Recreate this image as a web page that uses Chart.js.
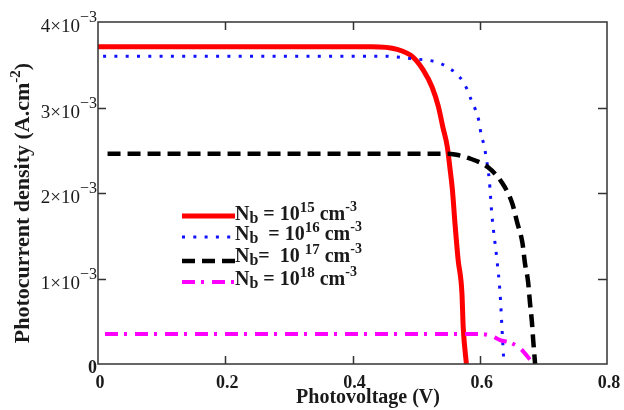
<!DOCTYPE html>
<html>
<head>
<meta charset="utf-8">
<script src="https://cdn.jsdelivr.net/npm/chart.js"></script>
<style>
  body { margin: 0; background: #fff; }
</style>
</head>
<body>
<canvas id="ivChart" width="624" height="410"></canvas>
<script>
// Photovoltage (V) / photocurrent density (x10^-3 A.cm^-2)
const redV = [0, 0.43, 0.47, 0.495, 0.511, 0.525, 0.535, 0.542, 0.549, 0.553, 0.557, 0.561, 0.566, 0.572, 0.574, 0.579];
const redJ = [3.71, 3.71, 3.68, 3.59, 3.44, 3.24, 3.01, 2.77, 2.54, 2.30, 2.04, 1.65, 1.22, 0.83, 0.43, 0];

const blueV = [0.008, 0.45, 0.495, 0.533, 0.550, 0.568, 0.579, 0.586, 0.594, 0.599, 0.602, 0.607, 0.610, 0.615, 0.619, 0.627, 0.632, 0.635, 0.638];
const blueJ = [3.60, 3.60, 3.57, 3.53, 3.47, 3.36, 3.23, 3.10, 2.96, 2.83, 2.69, 2.55, 2.42, 2.15, 1.75, 1.22, 0.82, 0.41, 0];

const blackV = [0.015, 0.55, 0.561, 0.582, 0.613, 0.635, 0.651, 0.659, 0.667, 0.671, 0.676, 0.679, 0.682, 0.684, 0.687];
const blackJ = [2.46, 2.46, 2.45, 2.41, 2.30, 2.12, 1.88, 1.65, 1.42, 1.18, 0.96, 0.71, 0.49, 0.28, 0];

const magV = [0.011, 0.60, 0.618, 0.632, 0.648, 0.664, 0.677, 0.684];
const magJ = [0.35, 0.35, 0.33, 0.28, 0.25, 0.18, 0.07, 0];

const xTicks = [0, 0.2, 0.4, 0.6, 0.8];
const yTicks = [0, 1, 2, 3, 4];
const dopingExp = ['15', '16', '17', '18'];
const legendEq = [' = 10', '  = 10', '=  10 ', ' = 10'];

const FONT = '"Liberation Serif", "Times New Roman", serif';

function toPoints(v, j) {
    return v.map((x, i) => ({ x: x, y: j[i] }));
}

// draws a run of text pieces (for sub/superscripts), returns end x
function drawRich(ctx, x, y, parts, weight) {
    parts.forEach(p => {
        ctx.font = `${weight} ${p.size}px ${FONT}`;
        ctx.fillText(p.t, x, y + (p.dy || 0));
        x += ctx.measureText(p.t).width;
    });
    return x;
}

function richWidth(ctx, parts, weight) {
    let w = 0;
    parts.forEach(p => {
        ctx.font = `${weight} ${p.size}px ${FONT}`;
        w += ctx.measureText(p.t).width;
    });
    return w;
}

const axesPlugin = {
    id: 'axesPlugin',
    afterDatasetsDraw(chart) {
        const { ctx, chartArea: a, scales: { x, y } } = chart;
        ctx.save();

        // frame
        ctx.strokeStyle = '#333';
        ctx.lineWidth = 1.5;
        ctx.strokeRect(a.left, a.top, a.right - a.left, a.bottom - a.top);

        // inward ticks on all four sides
        ctx.beginPath();
        xTicks.slice(1, -1).forEach(v => {
            const px = Math.round(x.getPixelForValue(v)) + 0.5;
            ctx.moveTo(px, a.bottom); ctx.lineTo(px, a.bottom - 8);
            ctx.moveTo(px, a.top); ctx.lineTo(px, a.top + 8);
        });
        yTicks.slice(1, -1).forEach(v => {
            const py = Math.round(y.getPixelForValue(v)) + 0.5;
            ctx.moveTo(a.left, py); ctx.lineTo(a.left + 8, py);
            ctx.moveTo(a.right, py); ctx.lineTo(a.right - 9, py);
        });
        ctx.stroke();

        ctx.fillStyle = '#1a1a1a';

        // x tick labels
        ctx.font = `bold 18px ${FONT}`;
        ctx.textAlign = 'center';
        ctx.textBaseline = 'alphabetic';
        xTicks.forEach(v => {
            ctx.fillText(String(v), x.getPixelForValue(v) + 2, a.bottom + 24);
        });

        // y tick labels  n×10^-3
        ctx.textAlign = 'left';
        yTicks.forEach(v => {
            const py = y.getPixelForValue(v);
            if (v === 0) {
                ctx.font = `bold 18px ${FONT}`;
                ctx.textAlign = 'right';
                ctx.fillText('0', a.left - 1, py + 9);
                ctx.textAlign = 'left';
                return;
            }
            const parts = [
                { t: v + '\u00d710', size: 19 },
                { t: '\u2212' + '3', size: 16, dy: -10 }
            ];
            const w = richWidth(ctx, parts, 'normal');
            drawRich(ctx, a.left - 1 - w, py + 10, parts, 'normal');
        });

        // x title
        const xt = [{ t: 'Photovoltage (V)', size: 20 }];
        const xw = richWidth(ctx, xt, 'bold');
        drawRich(ctx, 368 - xw / 2, 403, xt, 'bold');

        // y title, rotated
        const yt = [
            { t: 'Photocurrent density (A.cm', size: 22 },
            { t: '-2', size: 15, dy: -9 },
            { t: ')', size: 22 }
        ];
        const yw = richWidth(ctx, yt, 'bold');
        ctx.save();
        ctx.translate(29, 203);
        ctx.rotate(-Math.PI / 2);
        drawRich(ctx, -yw / 2, 0, yt, 'bold');
        ctx.restore();

        // legend inside the plot
        const lineY = [216, 237, 261, 282];
        const textY = [220, 240, 262, 285];
        chart.data.datasets.forEach((ds, i) => {
            ctx.save();
            ctx.strokeStyle = ds.borderColor;
            ctx.lineWidth = ds.borderWidth;
            ctx.setLineDash(ds.borderDash || []);
            ctx.beginPath();
            ctx.moveTo(182, lineY[i]);
            ctx.lineTo(235, lineY[i]);
            ctx.stroke();
            ctx.restore();
            const parts = [
                { t: 'N', size: 20 },
                { t: 'b', size: 16, dy: 3 },
                { t: legendEq[i], size: 20 },
                { t: dopingExp[i], size: 15, dy: -8 },
                { t: ' cm', size: 20 },
                { t: '-3', size: 14, dy: -9 }
            ];
            drawRich(ctx, 235, textY[i], parts, 'bold');
        });

        ctx.restore();
    }
};

new Chart(document.getElementById('ivChart'), {
    type: 'line',
    data: {
        datasets: [
            {
                label: 'Nb = 1e15',
                data: toPoints(redV, redJ),
                borderColor: '#ff0000',
                borderWidth: 5,
                order: 3
            },
            {
                label: 'Nb = 1e16',
                data: toPoints(blueV, blueJ),
                borderColor: '#1010ff',
                borderWidth: 3,
                borderDash: [3, 8.3],
                order: 2
            },
            {
                label: 'Nb = 1e17',
                data: toPoints(blackV, blackJ),
                borderColor: '#000000',
                borderWidth: 4.5,
                borderDash: [13, 7],
                order: 1
            },
            {
                label: 'Nb = 1e18',
                data: toPoints(magV, magJ),
                borderColor: '#ff00ff',
                borderWidth: 4,
                borderDash: [13, 6, 3, 8],
                order: 0
            }
        ]
    },
    options: {
        responsive: false,
        animation: false,
        layout: { padding: { left: 98, top: 22, right: 17, bottom: 46 } },
        elements: {
            point: { radius: 0 },
            line: { cubicInterpolationMode: 'monotone', fill: false }
        },
        plugins: {
            legend: { display: false },
            tooltip: { enabled: false }
        },
        scales: {
            x: { type: 'linear', min: 0, max: 0.8, display: false },
            y: { type: 'linear', min: 0, max: 4, display: false }
        }
    },
    plugins: [axesPlugin]
});
</script>
</body>
</html>
